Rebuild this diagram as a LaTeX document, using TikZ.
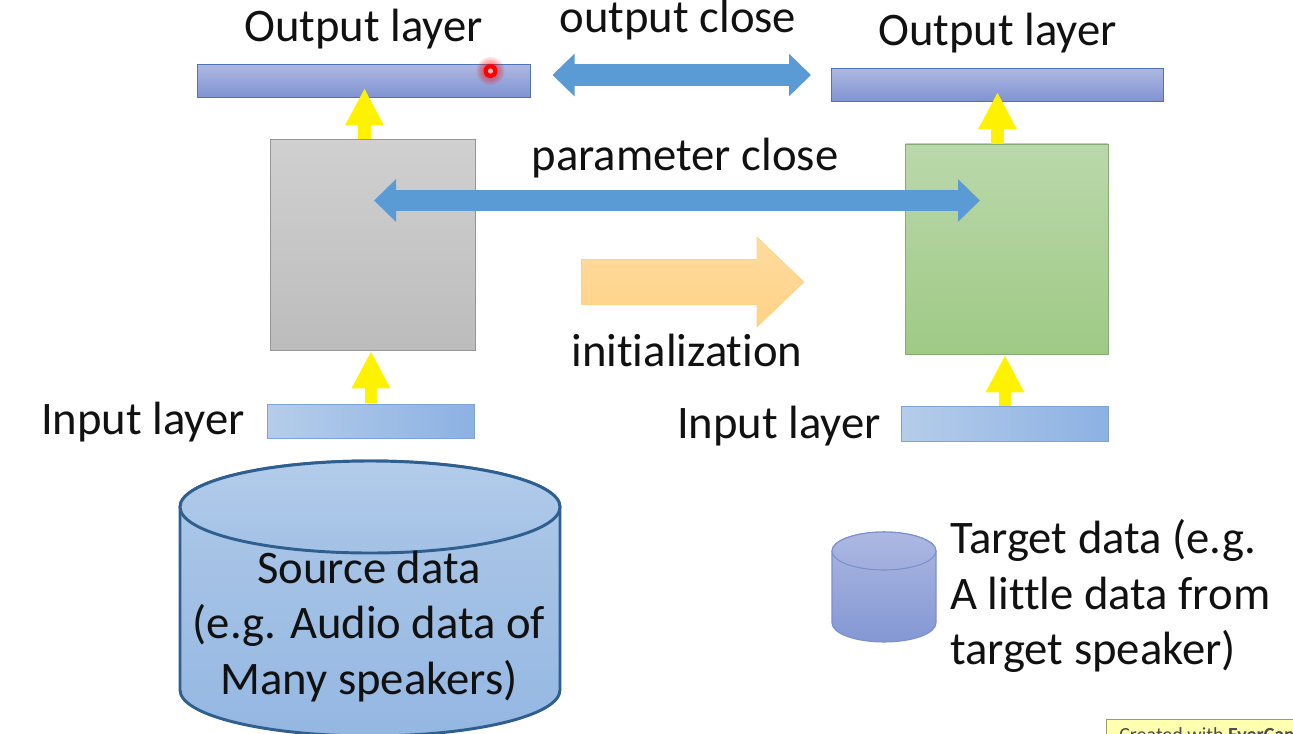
\documentclass[tikz,border=0pt]{standalone}
\usepackage{fontspec}
\setmainfont[Ligatures={NoCommon}]{Carlito}
\usetikzlibrary{arrows.meta,calc,shadings}
\definecolor{bluebar}{HTML}{5B9BD5}
\definecolor{cylline}{HTML}{2F5F8F}
\definecolor{txt}{HTML}{111111}
\definecolor{outtop}{HTML}{AEB8E2}
\definecolor{outbot}{HTML}{7F93D2}
\definecolor{outlinec}{HTML}{4F74B4}
\definecolor{intl}{HTML}{B5CDEA}
\definecolor{inr}{HTML}{8CB1E3}
\definecolor{inlinec}{HTML}{7DA3DA}
\definecolor{greyt}{HTML}{D0D0D0}
\definecolor{greyb}{HTML}{BCBCBC}
\definecolor{greent}{HTML}{BAD8AB}
\definecolor{greenb}{HTML}{9FCA85}
\definecolor{orat}{HTML}{FFDBA0}
\definecolor{orab}{HTML}{FFD285}
\definecolor{cyltop}{HTML}{AFC9E8}
\definecolor{cylbot}{HTML}{94B7E2}
\definecolor{cyltop2}{HTML}{B3CCEA}
\definecolor{cylmid}{HTML}{A3C1E6}
\definecolor{tcylt}{HTML}{ADB8E2}
\definecolor{tcylb}{HTML}{8397D3}
\definecolor{tcylm}{HTML}{9FACDD}
\definecolor{tcyll}{HTML}{7A90CE}
\definecolor{wmline}{HTML}{A09A70}
\definecolor{wmfill}{HTML}{FFFFB0}
\definecolor{ptr}{HTML}{FFB0B0}
\tikzset{
  x=0.75pt,y=-0.75pt,
  lbl/.style={font=\fontsize{35}{40}\selectfont,text=txt,inner sep=0pt,anchor=base},
  lblw/.style={lbl,anchor=base west},
  outbar/.style={draw=outlinec,top color=outtop,bottom color=outbot,line width=0.8pt,minimum width=249.5pt,minimum height=24.75pt,inner sep=0pt,anchor=north west},
  inbar/.style={draw=inlinec,left color=intl,right color=inr,line width=0.8pt,minimum width=155.5pt,minimum height=25.5pt,inner sep=0pt,anchor=north west},
  yarrow/.style={draw=yellow,line width=9.5pt,-{Triangle[length=28pt,width=27pt]}},
  barrow/.style={draw=bluebar,line width=#1,{Triangle[length=16.5pt,width=31pt]}-{Triangle[length=16.5pt,width=31pt]}},
  barrow/.default=16pt,
}
\begin{document}
\begin{tikzpicture}
\path[use as bounding box,fill=white] (0,0) rectangle (1293,733);
\begin{scope}
\clip (0,0) rectangle (1293,733);
% rectangles
\node[outbar] (outL) at (197,64) {};
\node[outbar] (outR) at (830.5,68) {};
\node[draw=greyb!80!black,top color=greyt,bottom color=greyb,line width=0.7pt,minimum width=153.5pt,minimum height=158pt,inner sep=0pt,anchor=north west] (grey) at (270,139) {};
\node[draw=greenb!85!black,top color=greent,bottom color=greenb,line width=0.7pt,minimum width=152pt,minimum height=158pt,inner sep=0pt,anchor=north west] (green) at (905,143.5) {};
\node[inbar] (inL) at (267,403.5) {};
\node[inbar,minimum height=26pt] (inR) at (900.5,406) {};
% yellow arrows
\coordinate (gtop) at (364.5,139);
\coordinate (gtip) at (364.5,88);
\coordinate (gntop) at (997.5,143.5);
\coordinate (gntip) at (997.5,92);
\coordinate (ib) at (371,403);
\coordinate (it) at (371,351);
\coordinate (ibr) at (1005,406);
\coordinate (itr) at (1005,355);
\draw[yarrow] (gtop) -- (gtip);
\draw[yarrow] (gntop) -- (gntip);
\draw[yarrow] (ib) -- (it);
\draw[yarrow] (ibr) -- (itr);
% blue double arrows
\coordinate (oa) at (552.5,75);
\coordinate (ob) at (811,75);
\draw[barrow=17pt] (oa) -- (ob);
\coordinate (pa) at (374,200.5);
\coordinate (pb) at (980,200.5);
\draw[barrow=15.5pt] (pa) -- (pb);
% orange arrow
\path[top color=orat,bottom color=orab,draw=orab,line width=0.4pt] (581.5,259.5) -- (757,259.5) -- (757,237) -- (804,282) -- (757,327) -- (757,304.5) -- (581.5,304.5) -- cycle;
% source cylinder
\path[top color=cyltop,bottom color=cylbot,draw=cylline,line width=2.2pt,line join=round]
  (180,507) -- (180,690) arc[start angle=180,end angle=0,x radius=190,y radius=46] -- (560,507)
  arc[start angle=0,end angle=-180,x radius=190,y radius=46] -- cycle;
\path[top color=cyltop2,bottom color=cylmid,draw=cylline,line width=2.2pt] (370,507) ellipse[x radius=190,y radius=46];
% target cylinder
\path[top color=tcylt,bottom color=tcylb,draw=tcyll,line width=0.8pt,line join=round]
  (832,551) -- (832,623) arc[start angle=180,end angle=0,x radius=52,y radius=19] -- (936,551)
  arc[start angle=0,end angle=-180,x radius=52,y radius=19] -- cycle;
\path[top color=tcylt,bottom color=tcylm,draw=tcyll,line width=0.8pt] (884,551) ellipse[x radius=52,y radius=19];
% red pointer
\foreach \r in {14,12.5,11,9.5,8}{\fill[red,opacity=0.1] (490.5,71) circle[radius=\r];}
\fill[red] (490.5,71) circle[radius=7];
\fill[ptr] (490.5,71) circle[radius=2.6];
% labels
\node[lbl] (t1) at (363.5,41) {Output layer};
\node[lbl] (t2) at (678,32) {output close};
\node[lbl] (t3) at (997.5,45) {Output layer};
\node[lbl] (t4) at (685,170) {parameter close};
\node[lbl] (t5) at (687,366) {initialization};
\node[lbl] (t6) at (143,434) {Input layer};
\node[lbl] (t7) at (779,438) {Input layer};
\node[lbl] (s1) at (369,583) {Source data};
\node[lbl] (s2) at (369,638) {(e.g. Audio data of};
\node[lbl] (s3) at (369,694) {Many speakers)};
\node[lblw] (d1) at (950,553) {Target data (e.g.};
\node[lblw] (d2) at (950,609) {A little data from};
\node[lblw] (d3) at (950,664) {target speaker)};
% watermark
\node[draw=wmline,fill=wmfill,line width=0.8pt,minimum width=200pt,minimum height=30pt,inner sep=0pt,anchor=north west] (wm) at (1106,718.5) {};
\node[font=\fontsize{15}{18}\selectfont,inner sep=0pt,anchor=base west,text=black!70] (wmt) at (1119,741) {Created with \textbf{EverCam}};
\end{scope}
\end{tikzpicture}
\end{document}
